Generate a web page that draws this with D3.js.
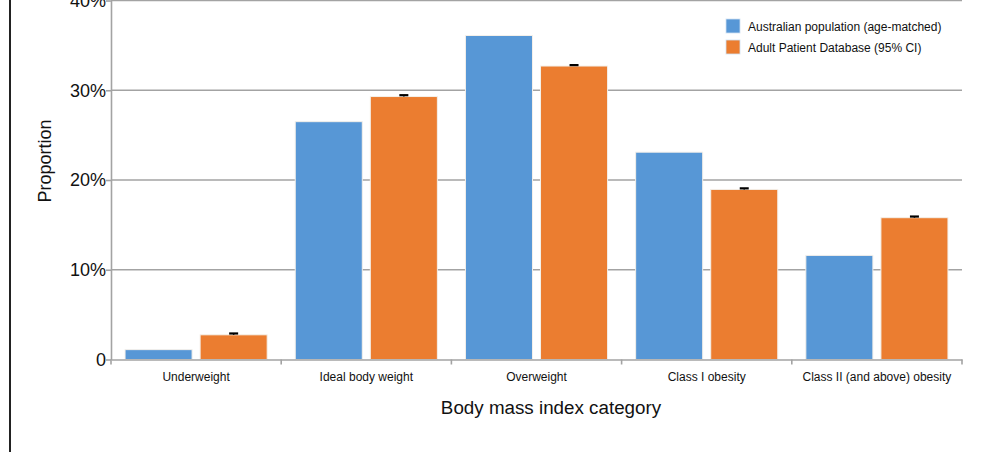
<!DOCTYPE html>
<html>
<head>
<meta charset="utf-8">
<script src="https://cdn.jsdelivr.net/npm/d3@7"></script>
<style>
  html, body { margin: 0; padding: 0; background: #fff; }
  svg { display: block; font-family: "Liberation Sans", Arial, sans-serif; }
</style>
</head>
<body>
<svg id="chart" width="995" height="452"></svg>
<script>
const categories = ["Underweight", "Ideal body weight", "Overweight", "Class I obesity", "Class II (and above) obesity"];
const seriesNames = ["Australian population (age-matched)", "Adult Patient Database (95% CI)"];
const australian = [1.1, 26.5, 36.1, 23.1, 11.6];
const apd = [2.75, 29.3, 32.7, 18.95, 15.8];
const apdLower = [2.75, 29.3, 32.7, 18.95, 15.8];
const apdUpper = [2.9, 29.45, 32.8, 19.07, 15.93];
const yTicks = [0, 10, 20, 30, 40];
const yTickLabels = ["0", "10%", "20%", "30%", "40%"];
const colors = ["#5797d6", "#eb7d30"];

(function () {
const svg = d3.select("#chart");
const mLeft = 111, mRight = 962, mTop = 0.5, mBottom = 359.5;

const x0 = d3.scaleBand().domain(categories).range([mLeft, mRight]).paddingInner(0).paddingOuter(0);
const x1 = d3.scaleBand().domain([0, 1]).range([0, x0.bandwidth()]).paddingInner(0.107).paddingOuter(0.187);
const y = d3.scaleLinear().domain([0, 40]).range([mBottom, mTop]);

// left border line
svg.append("line").attr("x1", 10).attr("x2", 10).attr("y1", 0).attr("y2", 452)
  .attr("stroke", "#222").attr("stroke-width", 2);

// gridlines
svg.append("g").selectAll("line").data(yTicks.filter(d => d > 0)).join("line")
  .attr("x1", mLeft).attr("x2", mRight)
  .attr("y1", d => y(d)).attr("y2", d => y(d))
  .attr("stroke", "#a3a3a3").attr("stroke-width", 1.6);

// y axis
const yAxis = d3.axisLeft(y).tickValues(yTicks).tickFormat((d, i) => yTickLabels[i]).tickSize(5).tickSizeOuter(0);
const gy = svg.append("g").attr("transform", `translate(${mLeft},0)`).call(yAxis);
gy.select(".domain").attr("stroke", "#a3a3a3").attr("stroke-width", 1.6);
gy.selectAll(".tick line").attr("stroke", "#a3a3a3").attr("stroke-width", 1.6);
gy.selectAll(".tick text").attr("font-size", 18).attr("fill", "#111").attr("x", -5)
  .attr("font-family", "Liberation Sans, Arial, sans-serif");

// bars
const groups = svg.append("g").selectAll("g").data(categories).join("g")
  .attr("transform", d => `translate(${x0(d)},0)`);
groups.selectAll("rect").data((d, i) => [australian[i], apd[i]]).join("rect")
  .attr("x", (d, j) => x1(j))
  .attr("width", x1.bandwidth())
  .attr("y", d => y(d))
  .attr("height", d => y(0) - y(d))
  .attr("fill", (d, j) => colors[j])
  .attr("stroke", "#f4f0ea").attr("stroke-width", 1);

// error bars (95% CI)
const eb = svg.append("g").selectAll("g").data(categories).join("g");
eb.each(function(d, i) {
  const cx = x0(d) + x1(1) + x1.bandwidth() / 2;
  const g = d3.select(this);
  g.append("line").attr("x1", cx).attr("x2", cx).attr("y1", y(apdLower[i])).attr("y2", y(apdUpper[i]))
    .attr("stroke", "#000").attr("stroke-width", 1.5);
  g.append("line").attr("x1", cx - 4.5).attr("x2", cx + 4.5).attr("y1", y(apdUpper[i])).attr("y2", y(apdUpper[i]))
    .attr("stroke", "#000").attr("stroke-width", 2.2);
});

// x axis
const xAxis = d3.axisBottom(x0).tickSize(0).tickSizeOuter(0);
const gx = svg.append("g").attr("transform", `translate(0,${mBottom})`).call(xAxis);
gx.select(".domain").attr("stroke", "#a3a3a3").attr("stroke-width", 1.6);
gx.selectAll(".tick text").attr("font-size", 12).attr("fill", "#111").attr("dy", "0.71em").attr("y", 12.5)
  .attr("font-family", "Liberation Sans, Arial, sans-serif");
// category separators
const seps = categories.map(c => x0(c)).concat([mRight]);
svg.append("g").selectAll("line").data(seps).join("line")
  .attr("x1", d => d).attr("x2", d => d).attr("y1", mBottom).attr("y2", mBottom + 5)
  .attr("stroke", "#a3a3a3").attr("stroke-width", 1.6);

// axis titles
svg.append("text").attr("x", 551).attr("y", 414).attr("text-anchor", "middle")
  .attr("font-size", 18.8).attr("fill", "#111").text("Body mass index category");
svg.append("text").attr("transform", "translate(51,161) rotate(-90)").attr("text-anchor", "middle")
  .attr("font-size", 18).attr("fill", "#111").text("Proportion");

// legend
const legend = svg.append("g").selectAll("g").data(seriesNames).join("g")
  .attr("transform", (d, i) => `translate(726,${19 + i * 21})`);
legend.append("rect").attr("width", 14).attr("height", 14).attr("fill", (d, i) => colors[i])
  .attr("stroke", "#cfe0f2").attr("stroke-width", 0.8);
legend.append("text").attr("x", 22).attr("y", 11.5).attr("font-size", 12).attr("fill", "#111").text(d => d);
})();
</script>
</body>
</html>
